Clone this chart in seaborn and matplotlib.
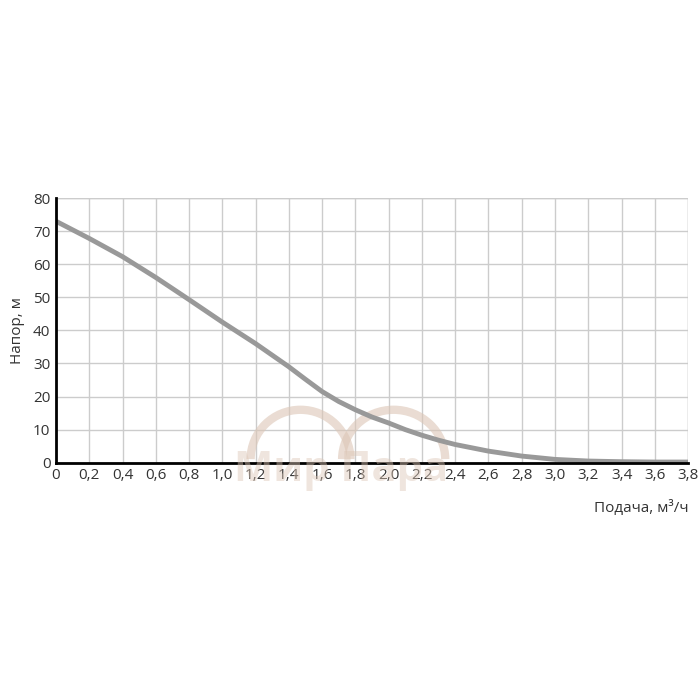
import numpy as np
import pandas as pd
import seaborn as sns
import matplotlib.pyplot as plt
from matplotlib.patches import Arc

# pump curve
flow = [0, 0.2, 0.4, 0.6, 0.8, 1.0, 1.2, 1.4, 1.5, 1.6, 1.7, 1.8, 1.9, 2.0, 2.1, 2.2, 2.3, 2.4, 2.6, 2.8, 3.0, 3.2, 3.4, 3.6, 3.8]
head = [73, 67.8, 62.3, 56, 49.3, 42.5, 36, 29, 25.2, 21.5, 18.5, 16, 13.8, 12, 10, 8.3, 6.8, 5.5, 3.5, 2, 1, 0.5, 0.3, 0.2, 0.2]
xticks = [0, 0.2, 0.4, 0.6, 0.8, 1.0, 1.2, 1.4, 1.6, 1.8, 2.0, 2.2, 2.4, 2.6, 2.8, 3.0, 3.2, 3.4, 3.6, 3.8]
yticks = [0, 10, 20, 30, 40, 50, 60, 70, 80]

df = pd.DataFrame({'flow': flow, 'head': head})

sns.set_style("white")
plt.rcParams['font.family'] = ['Open Sans', 'DejaVu Sans']

fig = plt.figure(figsize=(7, 7), dpi=100)
ax = fig.add_axes([0.08, 0.339, 0.903, 0.378])

# faint watermark
wm = '#dcc6b6'
ax.add_patch(Arc((1.47, 1), 0.6, 30, theta1=15, theta2=165, lw=6, color=wm, alpha=0.6, zorder=1))
ax.add_patch(Arc((2.03, 1), 0.62, 30, theta1=15, theta2=165, lw=6, color=wm, alpha=0.6, zorder=1))
fig.text(0.487, 0.328, 'Мир Пара', fontsize=30, fontweight='bold', color=wm, alpha=0.45,
         ha='center', va='center', zorder=0)

sns.lineplot(data=df, x='flow', y='head', ax=ax, color='#999999', linewidth=3.5, zorder=3)

ax.set_xlim(0, 3.8)
ax.set_ylim(0, 80)
ax.set_xticks(xticks)
ax.set_yticks(yticks)
ax.set_xticklabels([('0' if v == 0 else f'{v:.1f}'.replace('.', ',')) for v in xticks])
ax.set_yticklabels([str(v) for v in yticks])
ax.grid(True, color='#cccccc', linewidth=1)
ax.tick_params(axis='both', length=0, labelsize=11, colors='#333333', pad=4)

for s in ['top', 'right']:
    ax.spines[s].set_visible(False)
for s in ['left', 'bottom']:
    ax.spines[s].set_color('black')
    ax.spines[s].set_linewidth(2)
    ax.spines[s].set_zorder(4)

# close the grid frame
ax.axhline(80, color='#cccccc', linewidth=1, zorder=0)
ax.axvline(3.8, color='#cccccc', linewidth=1, zorder=0)

ax.set_ylabel('Напор, м', fontsize=11, color='#333333', labelpad=6)
ax.set_xlabel('Подача, м³/ч', fontsize=11, color='#333333', labelpad=8)
ax.xaxis.set_label_coords(1.0, -0.14)
ax.xaxis.label.set_horizontalalignment('right')

fig.savefig('out.png', dpi=100)
